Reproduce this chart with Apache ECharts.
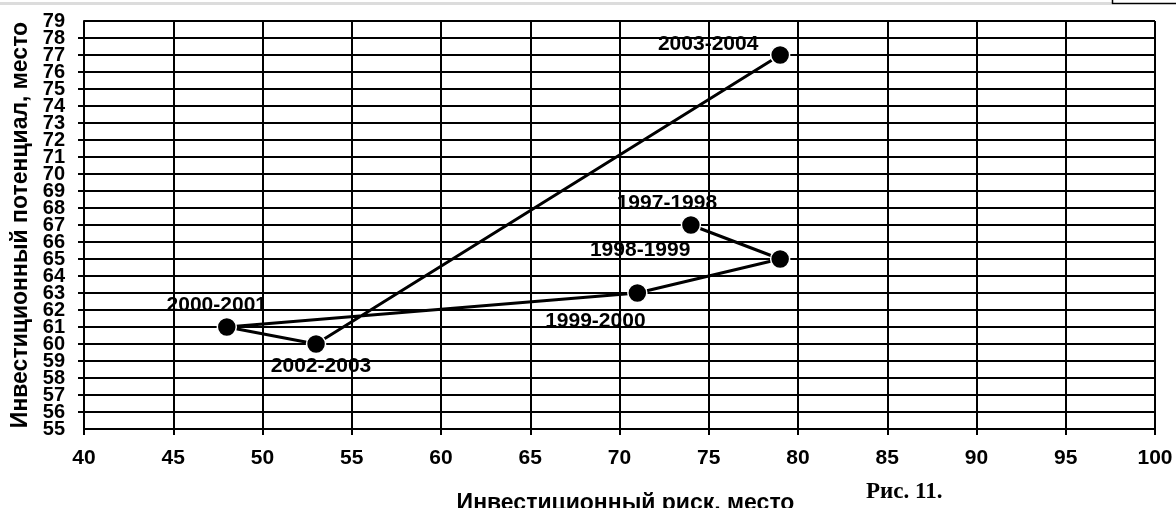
<!DOCTYPE html>
<html>
<head>
<meta charset="utf-8">
<script src="https://cdn.jsdelivr.net/npm/echarts@6/dist/echarts.min.js"></script>
<style>
html,body{margin:0;padding:0;background:#fff;}
#chart{width:1176px;height:508px;}
</style>
</head>
<body>
<div id="chart"></div>
<script>
const periods = ['1997-1998','1998-1999','1999-2000','2000-2001','2002-2003','2003-2004'];
const riskRank = [74, 79, 71, 48, 53, 79];
const potentialRank = [67, 65, 63, 61, 60, 77];
const xTicks = {min: 40, max: 100, interval: 5};
const yTicks = {min: 55, max: 79, interval: 1};
const xTitle = 'Инвестиционный риск, место';
const yTitle = 'Инвестиционный потенциал, место';
const caption = 'Рис. 11.';

const labelOffsets = [[-24,-22],[-140,-9],[-42,28],[-10,-22],[5,22],[-72,-11]];

const chart = echarts.init(document.getElementById('chart'), null, {renderer:'canvas'});
const font = 'Liberation Sans, Arial, sans-serif';
const data = riskRank.map((x,i)=>({
  value:[x, potentialRank[i]],
  label:{offset: labelOffsets[i]}
}));
const yLabelStyle = {margin:19, fontFamily:font, fontWeight:'bold', fontSize:20, color:'#000', hideOverlap:false};
chart.setOption({
  animation:false,
  backgroundColor:'#fff',
  grid:{left:84, right:21, top:21, bottom:79, containLabel:false, outerBoundsMode:'none'},
  xAxis:{
    type:'value', min:xTicks.min, max:xTicks.max, interval:xTicks.interval,
    name:xTitle, nameLocation:'middle', nameGap:63,
    nameTextStyle:{fontFamily:font, fontWeight:'bold', fontSize:23, color:'#000', padding:[0,0,0,12]},
    axisLine:{show:true, onZero:false, lineStyle:{color:'#000', width:2}},
    axisTick:{show:true, length:6, lineStyle:{color:'#000', width:2}},
    axisLabel:{margin:19, fontFamily:font, fontWeight:'bold', fontSize:21, color:'#000',
      showMinLabel:true, showMaxLabel:true, hideOverlap:false},
    splitLine:{show:true, lineStyle:{color:'#000', width:2}}
  },
  yAxis:[{
    type:'value', min:yTicks.min, max:yTicks.max, interval:yTicks.interval,
    position:'left', offset:0,
    name:yTitle, nameLocation:'middle', nameGap:52, nameRotate:90,
    nameTextStyle:{fontFamily:font, fontWeight:'bold', fontSize:23, color:'#000'},
    axisLine:{show:true, onZero:false, lineStyle:{color:'#000', width:2}},
    axisTick:{show:true, length:6, lineStyle:{color:'#000', width:2}},
    axisLabel:Object.assign({showMinLabel:false, showMaxLabel:false}, yLabelStyle),
    splitLine:{show:true, lineStyle:{color:'#000', width:2}}
  },{
    type:'value', min:yTicks.min, max:yTicks.max, interval:yTicks.interval,
    position:'left', offset:0,
    axisLine:{show:false}, axisTick:{show:false}, splitLine:{show:false},
    axisLabel:Object.assign({showMinLabel:true, showMaxLabel:true,
      formatter:(v)=> (v===yTicks.min || v===yTicks.max) ? String(v) : ''}, yLabelStyle)
  }],
  series:[{
    type:'line',
    yAxisIndex:0,
    data:data,
    symbol:'circle', symbolSize:19,
    itemStyle:{color:'#000', borderColor:'#fff', borderWidth:1.5},
    lineStyle:{color:'#000', width:3},
    label:{
      show:true, position:'inside', align:'center', verticalAlign:'middle',
      formatter:(p)=>periods[p.dataIndex],
      fontFamily:font, fontWeight:'bold', fontSize:21, color:'#000'
    },
    z:5
  }],
  graphic:[
    {type:'rect', shape:{x:0, y:2, width:1112, height:3}, style:{fill:'#dcdcdc'}, silent:true},
    {type:'line', shape:{x1:1112.5, y1:0, x2:1112.5, y2:4}, style:{stroke:'#000', lineWidth:1.5}, silent:true},
    {type:'line', shape:{x1:1112, y1:3.5, x2:1176, y2:3.5}, style:{stroke:'#000', lineWidth:1.5}, silent:true},
    {type:'text', left:866, top:481, style:{text:caption, font:'bold 23px "Liberation Serif", "Times New Roman", serif', fill:'#000'}}
  ]
});
</script>
</body>
</html>
